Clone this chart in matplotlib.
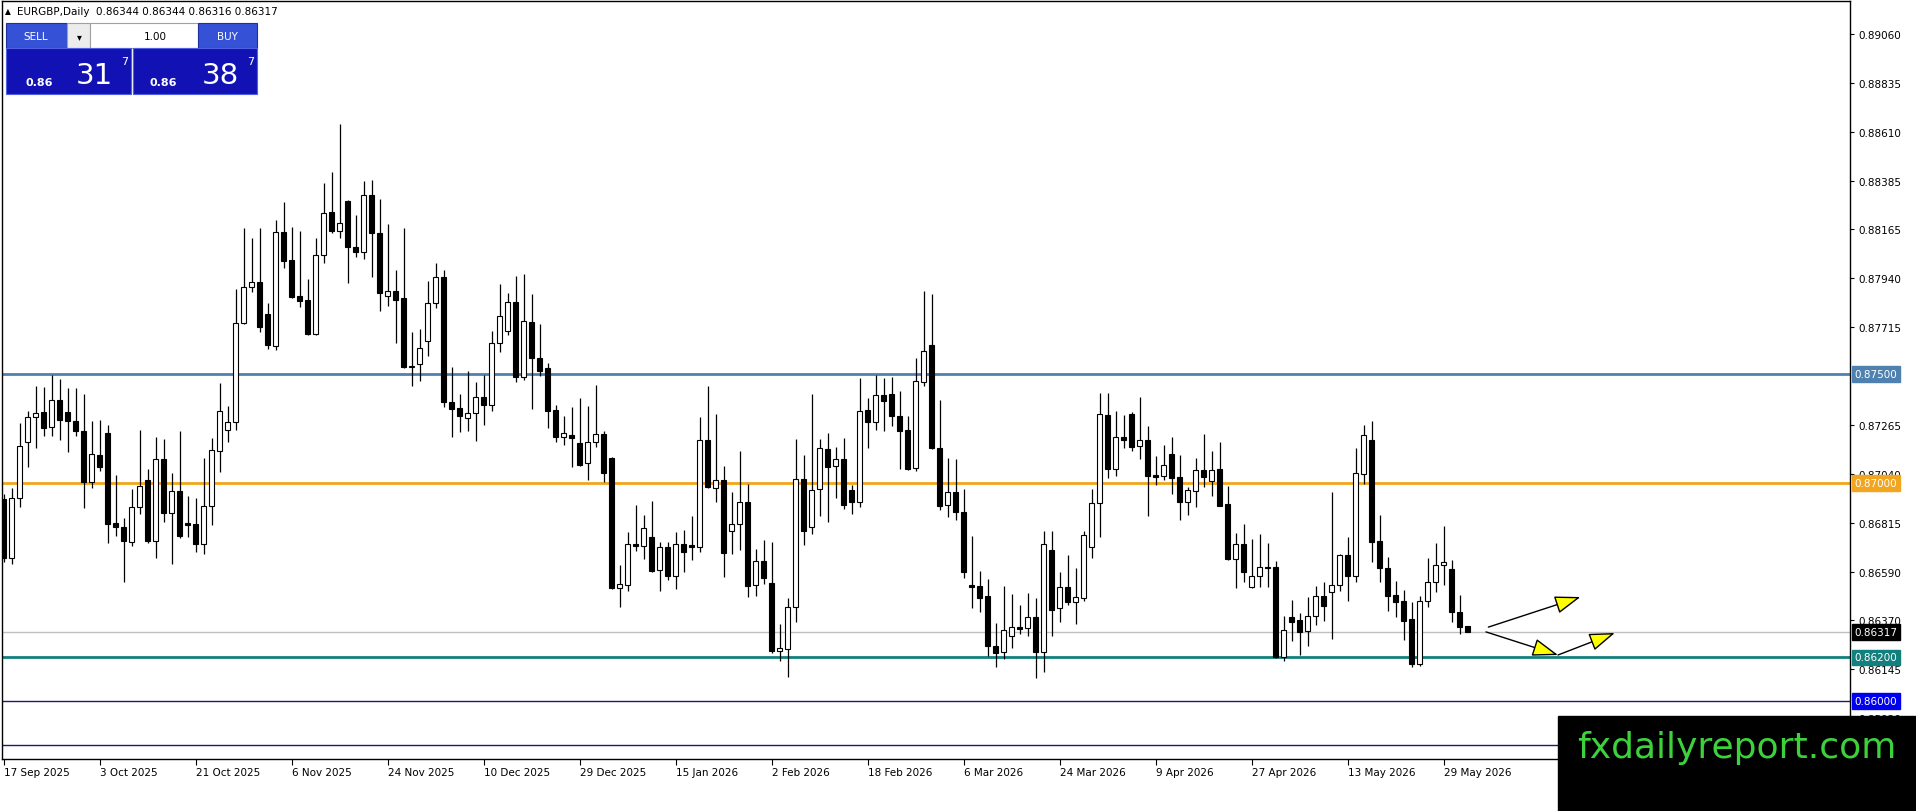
import numpy as np
import matplotlib
matplotlib.use('Agg')
import matplotlib.pyplot as plt
from matplotlib.patches import Rectangle
from matplotlib.transforms import blended_transform_factory

# daily EURGBP candles, 17 Sep 2025 .. 3 Jun 2026
opens = [
    0.86927, 0.86655, 0.86930, 0.87187, 0.87301, 0.87324, 0.87255, 0.87379, 0.87324, 0.87283,
    0.87237, 0.87006, 0.87128, 0.87228, 0.86817, 0.86798, 0.86731, 0.86889, 0.87015, 0.86735,
    0.87110, 0.86864, 0.86963, 0.86817, 0.86811, 0.86722, 0.86893, 0.87145, 0.87245, 0.87278,
    0.87733, 0.87898, 0.87921, 0.87775, 0.87630, 0.88150, 0.88023, 0.87858, 0.87839, 0.87683,
    0.88044, 0.88243, 0.88157, 0.88294, 0.88081, 0.88061, 0.88321, 0.88148, 0.87856, 0.87879,
    0.87849, 0.87531, 0.87544, 0.87653, 0.87824, 0.87944, 0.87370, 0.87343, 0.87297, 0.87320,
    0.87393, 0.87359, 0.87641, 0.87699, 0.87829, 0.87485, 0.87737, 0.87572, 0.87526, 0.87335,
    0.87212, 0.87219, 0.87183, 0.87090, 0.87187, 0.87225, 0.87115, 0.86520, 0.86533, 0.86720,
    0.86712, 0.86751, 0.86602, 0.86705, 0.86575, 0.86720, 0.86716, 0.86708, 0.87197, 0.86976,
    0.87015, 0.86778, 0.86812, 0.86911, 0.86532, 0.86644, 0.86540, 0.86231, 0.86239, 0.86430,
    0.87018, 0.86797, 0.86972, 0.87156, 0.87077, 0.87110, 0.86968, 0.86914, 0.87335, 0.87281,
    0.87404, 0.87408, 0.87309, 0.87243, 0.87067, 0.87462, 0.87633, 0.87159, 0.86900, 0.86957,
    0.86866, 0.86532, 0.86526, 0.86480, 0.86254, 0.86223, 0.86297, 0.86338, 0.86336, 0.86384,
    0.86226, 0.86693, 0.86425, 0.86522, 0.86453, 0.86473, 0.86705, 0.86907, 0.87314, 0.87064,
    0.87210, 0.87317, 0.87168, 0.87197, 0.87035, 0.87033, 0.87133, 0.87026, 0.86911, 0.86962,
    0.87060, 0.87008, 0.87063, 0.86904, 0.86651, 0.86720, 0.86522, 0.86572, 0.86613, 0.86613,
    0.86200, 0.86384, 0.86372, 0.86320, 0.86391, 0.86483, 0.86499, 0.86533, 0.86670, 0.86572,
    0.87041, 0.87197, 0.86733, 0.86609, 0.86486, 0.86457, 0.86376, 0.86170, 0.86457, 0.86545,
    0.86624, 0.86606, 0.86407, 0.86344,
]
highs = [
    0.86950, 0.86976, 0.87275, 0.87329, 0.87444, 0.87439, 0.87495, 0.87477, 0.87436, 0.87436,
    0.87408, 0.87283, 0.87289, 0.87265, 0.87037, 0.86840, 0.86972, 0.87243, 0.87064, 0.87210,
    0.87202, 0.87046, 0.87239, 0.86939, 0.86931, 0.87113, 0.87206, 0.87459, 0.87352, 0.87890,
    0.88168, 0.88124, 0.88168, 0.87824, 0.88206, 0.88288, 0.88173, 0.88157, 0.87936, 0.88124,
    0.88376, 0.88425, 0.88647, 0.88298, 0.88229, 0.88384, 0.88390, 0.88303, 0.88188, 0.87977,
    0.88168, 0.87693, 0.87706, 0.87925, 0.88008, 0.87978, 0.87531, 0.87408, 0.87512, 0.87462,
    0.87497, 0.87696, 0.87913, 0.87872, 0.87948, 0.87959, 0.87867, 0.87729, 0.87550, 0.87359,
    0.87306, 0.87347, 0.87388, 0.87352, 0.87450, 0.87240, 0.87118, 0.86624, 0.86777, 0.86899,
    0.86855, 0.86917, 0.86729, 0.86731, 0.86774, 0.86784, 0.86847, 0.87301, 0.87444, 0.87317,
    0.87079, 0.86957, 0.87145, 0.86995, 0.86697, 0.86739, 0.86731, 0.86353, 0.86473, 0.87202,
    0.87128, 0.87408, 0.87202, 0.87229, 0.87164, 0.87205, 0.86991, 0.87482, 0.87388, 0.87497,
    0.87482, 0.87485, 0.87421, 0.87306, 0.87572, 0.87882, 0.87867, 0.87381, 0.87115, 0.87110,
    0.86972, 0.86756, 0.86598, 0.86560, 0.86358, 0.86526, 0.86491, 0.86440, 0.86495, 0.86471,
    0.86778, 0.86778, 0.86593, 0.86671, 0.86610, 0.86781, 0.86972, 0.87412, 0.87412, 0.87329,
    0.87312, 0.87324, 0.87393, 0.87263, 0.87122, 0.87174, 0.87210, 0.87128, 0.86980, 0.87113,
    0.87225, 0.87148, 0.87189, 0.86985, 0.86771, 0.86812, 0.86743, 0.86766, 0.86725, 0.86644,
    0.86389, 0.86463, 0.86404, 0.86476, 0.86526, 0.86547, 0.86960, 0.86674, 0.86751, 0.87159,
    0.87266, 0.87284, 0.86853, 0.86659, 0.86549, 0.86511, 0.86453, 0.86483, 0.86655, 0.86723,
    0.86804, 0.86647, 0.86486, 0.86344,
]
lows = [
    0.86638, 0.86627, 0.86890, 0.87075, 0.87161, 0.87217, 0.87217, 0.87199, 0.87144, 0.87217,
    0.86884, 0.86976, 0.87056, 0.86725, 0.86758, 0.86547, 0.86712, 0.86858, 0.86725, 0.86656,
    0.86822, 0.86630, 0.86746, 0.86751, 0.86685, 0.86676, 0.86807, 0.87052, 0.87189, 0.87245,
    0.87729, 0.87878, 0.87693, 0.87615, 0.87610, 0.87985, 0.87849, 0.87809, 0.87680, 0.87679,
    0.88008, 0.88145, 0.88124, 0.87917, 0.88038, 0.88028, 0.87946, 0.87790, 0.87813, 0.87641,
    0.87528, 0.87446, 0.87469, 0.87584, 0.87801, 0.87350, 0.87210, 0.87235, 0.87240, 0.87194,
    0.87267, 0.87332, 0.87600, 0.87680, 0.87462, 0.87473, 0.87339, 0.87489, 0.87251, 0.87187,
    0.87176, 0.87075, 0.87079, 0.87015, 0.87164, 0.87003, 0.86514, 0.86433, 0.86506, 0.86689,
    0.86651, 0.86593, 0.86506, 0.86555, 0.86514, 0.86593, 0.86647, 0.86682, 0.86976, 0.86914,
    0.86570, 0.86674, 0.86694, 0.86476, 0.86483, 0.86537, 0.86220, 0.86185, 0.86109, 0.86364,
    0.86716, 0.86766, 0.86847, 0.86820, 0.86930, 0.86881, 0.86858, 0.86889, 0.87159, 0.87245,
    0.87240, 0.87263, 0.87064, 0.87061, 0.87056, 0.87444, 0.87156, 0.86878, 0.86843, 0.86832,
    0.86563, 0.86425, 0.86407, 0.86205, 0.86157, 0.86193, 0.86242, 0.86307, 0.86297, 0.86104,
    0.86132, 0.86297, 0.86364, 0.86442, 0.86353, 0.86460, 0.86656, 0.86751, 0.87025, 0.87031,
    0.87159, 0.87148, 0.87110, 0.86847, 0.86993, 0.87015, 0.86951, 0.86832, 0.86855, 0.86889,
    0.86980, 0.86942, 0.86894, 0.86649, 0.86520, 0.86545, 0.86518, 0.86522, 0.86522, 0.86198,
    0.86185, 0.86277, 0.86211, 0.86254, 0.86349, 0.86368, 0.86284, 0.86506, 0.86460, 0.86547,
    0.86995, 0.86639, 0.86545, 0.86412, 0.86384, 0.86281, 0.86155, 0.86162, 0.86430, 0.86501,
    0.86533, 0.86361, 0.86307, 0.86316,
]
closes = [
    0.86656, 0.86930, 0.87168, 0.87301, 0.87320, 0.87251, 0.87379, 0.87290, 0.87286, 0.87237,
    0.87003, 0.87132, 0.87072, 0.86812, 0.86800, 0.86735, 0.86889, 0.86985, 0.86735, 0.87110,
    0.86864, 0.86963, 0.86758, 0.86809, 0.86722, 0.86893, 0.87150, 0.87329, 0.87278, 0.87733,
    0.87898, 0.87921, 0.87714, 0.87634, 0.88150, 0.88020, 0.87855, 0.87836, 0.87683, 0.88044,
    0.88238, 0.88157, 0.88191, 0.88084, 0.88061, 0.88321, 0.88148, 0.87873, 0.87879, 0.87841,
    0.87531, 0.87538, 0.87618, 0.87824, 0.87946, 0.87370, 0.87339, 0.87309, 0.87320, 0.87393,
    0.87359, 0.87641, 0.87767, 0.87829, 0.87485, 0.87742, 0.87572, 0.87515, 0.87332, 0.87212,
    0.87228, 0.87208, 0.87083, 0.87187, 0.87225, 0.87044, 0.86518, 0.86535, 0.86719, 0.86712,
    0.86792, 0.86598, 0.86705, 0.86572, 0.86720, 0.86685, 0.86708, 0.87197, 0.86980, 0.87015,
    0.86678, 0.86812, 0.86911, 0.86529, 0.86644, 0.86563, 0.86231, 0.86242, 0.86430, 0.87018,
    0.86781, 0.86968, 0.87159, 0.87072, 0.87110, 0.86899, 0.86914, 0.87329, 0.87281, 0.87404,
    0.87378, 0.87309, 0.87240, 0.87064, 0.87467, 0.87604, 0.87159, 0.86896, 0.86957, 0.86866,
    0.86590, 0.86524, 0.86474, 0.86251, 0.86220, 0.86326, 0.86338, 0.86330, 0.86384, 0.86226,
    0.86719, 0.86419, 0.86522, 0.86453, 0.86476, 0.86762, 0.86907, 0.87315, 0.87063, 0.87210,
    0.87199, 0.87167, 0.87197, 0.87030, 0.87029, 0.87083, 0.87025, 0.86911, 0.86968, 0.87061,
    0.87026, 0.87060, 0.86896, 0.86651, 0.86720, 0.86593, 0.86575, 0.86613, 0.86609, 0.86200,
    0.86326, 0.86364, 0.86318, 0.86391, 0.86483, 0.86434, 0.86533, 0.86670, 0.86575, 0.87044,
    0.87220, 0.86731, 0.86609, 0.86483, 0.86453, 0.86368, 0.86170, 0.86460, 0.86545, 0.86624,
    0.86636, 0.86407, 0.86341, 0.86317,
]

date_labels = ['17 Sep 2025', '3 Oct 2025', '21 Oct 2025', '6 Nov 2025', '24 Nov 2025',
               '10 Dec 2025', '29 Dec 2025', '15 Jan 2026', '2 Feb 2026', '18 Feb 2026',
               '6 Mar 2026', '24 Mar 2026', '9 Apr 2026', '27 Apr 2026', '13 May 2026',
               '29 May 2026']
price_ticks = [0.89060, 0.88835, 0.88610, 0.88385, 0.88165, 0.87940, 0.87715, 0.87265,
               0.87040, 0.86815, 0.86590, 0.86370, 0.86145, 0.85920]

level_prices = [0.87500, 0.87000, 0.86200, 0.86000, 0.85800]
level_colors = ['#4F81B0', '#F2A51E', '#12807C', '#1A1A70', '#1A1A70']
level_widths = [2.0, 2.0, 2.0, 1.0, 1.0]
level_boxes = ['#4F81B0', '#F2A51E', '#12807C', '#0000F0', '#0000F0']
last_price = 0.86317

# hand drawn arrows (bar index, price)
arrows = [((185.6, 0.86339), (197.1, 0.86477)),
          ((185.3, 0.86317), (194.3, 0.86211)),
          ((194.3, 0.86211), (201.4, 0.86312))]

W, H = 1916, 812
fig = plt.figure(figsize=(W / 100, H / 100), dpi=100)
fig.patch.set_facecolor('white')
ax = fig.add_axes([2 / W, 52 / H, 1848 / W, 758 / H])

o = np.array(opens)
c = np.array(closes)
x = np.arange(len(o))

ax.vlines(x, lows, highs, color='black', lw=0.9, zorder=3)
bottom = np.minimum(o, c)
height = np.maximum(np.abs(c - o), 0.00003)
colors = np.where(c >= o, 'white', 'black')
ax.bar(x, height, width=0.62, bottom=bottom, color=colors, edgecolor='black',
       linewidth=0.8, zorder=4)

for p, col, lw in zip(level_prices, level_colors, level_widths):
    ax.axhline(p, color=col, lw=lw, zorder=2)
ax.axhline(last_price, color='#C0C0C0', lw=1.0, zorder=1)

ax.set_xlim(-0.19, 230.8)
ax.set_ylim(0.85734, 0.89211)

ax.yaxis.tick_right()
ax.set_yticks(price_ticks)
ax.set_yticklabels([f'{p:.5f}' for p in price_ticks])
ax.tick_params(axis='y', direction='out', length=3, labelsize=7.5, pad=3)

ax.set_xticks(np.arange(len(date_labels)) * 12)
ax.set_xticklabels(date_labels, ha='left')
ax.tick_params(axis='x', direction='out', length=4, labelsize=7.5, pad=2)
for sp in ax.spines.values():
    sp.set_color('black')
    sp.set_linewidth(1.0)

trans = blended_transform_factory(ax.transAxes, ax.transData)
for p, fc in zip(level_prices, level_boxes):
    ax.text(1.0025, p, f'{p:.5f}', transform=trans, ha='left', va='center',
            fontsize=7.5, color='white',
            bbox=dict(boxstyle='square,pad=0.25', fc=fc, ec=fc))
ax.text(1.0025, last_price, f'{last_price:.5f}', transform=trans, ha='left',
        va='center', fontsize=7.5, color='white',
        bbox=dict(boxstyle='square,pad=0.25', fc='black', ec='black'))

for start, end in arrows:
    ax.annotate('', xy=end, xytext=start,
                arrowprops=dict(arrowstyle='-|>,head_length=0.8,head_width=0.28',
                                fc='#FFFF00', ec='black', lw=1.0,
                                mutation_scale=20, shrinkA=0, shrinkB=0),
                zorder=6)


def fig_rect(px, py, pw, ph, **kw):
    fig.add_artist(Rectangle((px / W, 1 - (py + ph) / H), pw / W, ph / H,
                             transform=fig.transFigure, **kw))


def fig_text(px, py, s, **kw):
    fig.text(px / W, 1 - py / H, s, **kw)


# header
fig_text(5, 12, '\u25b2', fontsize=5.5, va='center', ha='left')
fig_text(17, 12, 'EURGBP,Daily  0.86344 0.86344 0.86316 0.86317', fontsize=7.5,
         va='center', ha='left')

# one-click trading panel
fig_rect(6, 24, 61, 25, fc='#3552D6', ec='#20309A', lw=0.8)
fig_rect(67, 24, 23, 25, fc='#ECECEC', ec='#A0A0A0', lw=0.8)
fig_rect(90, 24, 108, 25, fc='white', ec='#A0A0A0', lw=0.8)
fig_rect(198, 24, 59, 25, fc='#3552D6', ec='#20309A', lw=0.8)
fig_rect(6, 49, 125, 46, fc='#1212B4', ec='#5060E0', lw=0.8)
fig_rect(133, 49, 124, 46, fc='#1212B4', ec='#5060E0', lw=0.8)
fig_text(36, 37, 'SELL', fontsize=7.5, color='white', ha='center', va='center')
fig_text(79, 37, '\u25be', fontsize=7, color='black', ha='center', va='center')
fig_text(167, 37, '1.00', fontsize=7.5, color='black', ha='right', va='center')
fig_text(227, 37, 'BUY', fontsize=7.5, color='white', ha='center', va='center')
fig_text(25, 83, '0.86', fontsize=8, color='white', ha='left', va='center',
         fontweight='bold')
fig_text(76, 76, '31', fontsize=21, color='white', ha='left', va='center')
fig_text(121, 62, '7', fontsize=8, color='white', ha='left', va='center')
fig_text(150, 83, '0.86', fontsize=8, color='white', ha='left', va='center',
         fontweight='bold')
fig_text(202, 76, '38', fontsize=21, color='white', ha='left', va='center')
fig_text(247, 62, '7', fontsize=8, color='white', ha='left', va='center')

# watermark
fig_rect(1558, 717, 358, 95, fc='black', ec='black', zorder=10)
fig_text(1737, 748, 'fxdailyreport.com', fontsize=26, color='#3CD23C',
         ha='center', va='center', zorder=11)

fig.savefig('out.png', dpi=100)
